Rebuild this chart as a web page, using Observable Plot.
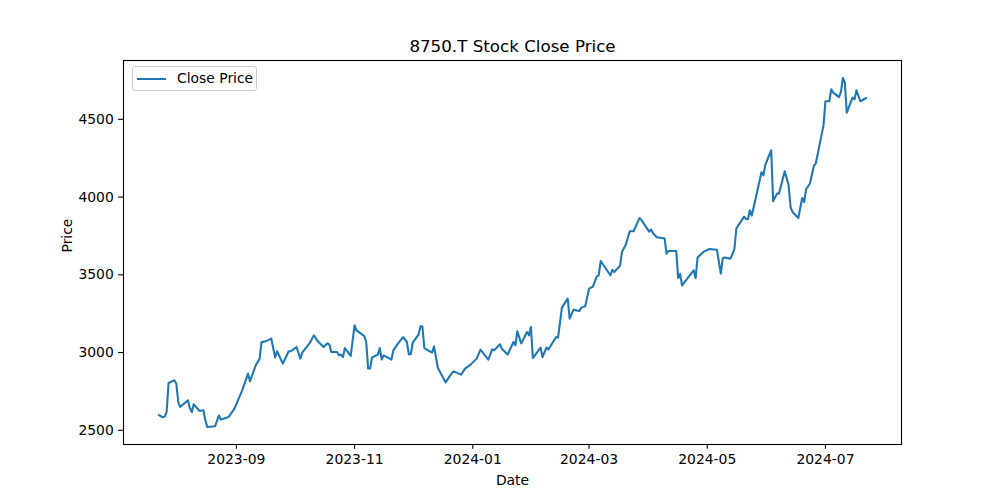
<!DOCTYPE html>
<html>
<head>
<meta charset="utf-8">
<script src="https://cdn.jsdelivr.net/npm/d3@7"></script>
<script src="https://cdn.jsdelivr.net/npm/@observablehq/plot@0.6"></script>
<style>
  html, body { margin: 0; padding: 0; background: #fff; }
  #wrap { position: relative; width: 1000px; height: 500px; font-family: "DejaVu Sans", sans-serif; }
  #legend { position: absolute; left: 132px; top: 66px; width: 125px; height: 25px;
    border: 1px solid #cccccc; border-radius: 3px; background: rgba(255,255,255,0.8); box-sizing: border-box; }
  #legend .sw { position: absolute; left: 4px; top: 11px; width: 29px; height: 2px; background: #1f77b4; }
  #legend .lb { position: absolute; left: 44px; top: 3px; font-size: 13.9px; line-height: 17px; color: #000; white-space: nowrap; }
</style>
</head>
<body>
<div id="wrap"></div>
<script>
const chartTitle = "8750.T Stock Close Price";
const xLabel = "Date";
const yLabel = "Price";
const seriesName = "Close Price";

const dates = [
"2023-07-23","2023-07-25","2023-07-26","2023-07-27","2023-07-28","2023-07-31","2023-08-01","2023-08-02","2023-08-03","2023-08-07",
"2023-08-08","2023-08-09","2023-08-10","2023-08-13","2023-08-15","2023-08-16","2023-08-17","2023-08-21","2023-08-23","2023-08-24",
"2023-08-28","2023-08-31","2023-09-04","2023-09-07","2023-09-08","2023-09-11","2023-09-13","2023-09-14","2023-09-16","2023-09-19",
"2023-09-21","2023-09-22","2023-09-25","2023-09-28","2023-09-29","2023-10-02","2023-10-04","2023-10-05","2023-10-09","2023-10-11",
"2023-10-13","2023-10-16","2023-10-18","2023-10-19","2023-10-20","2023-10-23","2023-10-24","2023-10-25","2023-10-26","2023-10-27",
"2023-10-30","2023-11-01","2023-11-02","2023-11-06","2023-11-07","2023-11-08","2023-11-09","2023-11-10","2023-11-13","2023-11-14",
"2023-11-15","2023-11-16","2023-11-20","2023-11-21","2023-11-23","2023-11-26","2023-11-28","2023-11-29","2023-11-30","2023-12-01",
"2023-12-04","2023-12-05","2023-12-06","2023-12-07","2023-12-11","2023-12-12","2023-12-14","2023-12-18","2023-12-20","2023-12-22",
"2023-12-26","2023-12-28","2023-12-31","2024-01-03","2024-01-05","2024-01-09","2024-01-11","2024-01-12","2024-01-15","2024-01-16",
"2024-01-19","2024-01-22","2024-01-23","2024-01-24","2024-01-26","2024-01-29","2024-01-30","2024-01-31","2024-02-01","2024-02-05",
"2024-02-06","2024-02-08","2024-02-09","2024-02-13","2024-02-14","2024-02-16","2024-02-19","2024-02-20","2024-02-22","2024-02-25",
"2024-02-26","2024-02-28","2024-03-01","2024-03-03","2024-03-05","2024-03-06","2024-03-07","2024-03-12","2024-03-13","2024-03-14",
"2024-03-17","2024-03-18","2024-03-20","2024-03-22","2024-03-24","2024-03-27","2024-03-28","2024-04-01","2024-04-02","2024-04-03",
"2024-04-05","2024-04-09","2024-04-10","2024-04-11","2024-04-15","2024-04-16","2024-04-17","2024-04-18","2024-04-24","2024-04-25",
"2024-04-26","2024-04-29","2024-04-30","2024-05-02","2024-05-06","2024-05-08","2024-05-09","2024-05-10","2024-05-13","2024-05-15",
"2024-05-16","2024-05-20","2024-05-21","2024-05-22","2024-05-23","2024-05-24","2024-05-26","2024-05-29","2024-05-30","2024-05-31",
"2024-06-03","2024-06-04","2024-06-06","2024-06-07","2024-06-10","2024-06-12","2024-06-13","2024-06-14","2024-06-17","2024-06-19",
"2024-06-20","2024-06-21","2024-06-23","2024-06-25","2024-06-26","2024-06-30","2024-07-01","2024-07-03","2024-07-04","2024-07-05",
"2024-07-08","2024-07-09","2024-07-10","2024-07-11","2024-07-12","2024-07-15","2024-07-16","2024-07-17","2024-07-19","2024-07-22"
];

const closes = [
2598,2584,2588,2618,2804,2822,2800,2682,2650,2693,
2643,2618,2667,2624,2629,2564,2521,2526,2596,2569,
2586,2640,2757,2865,2815,2918,2961,3068,3072,3090,
2968,3008,2929,3008,3008,3036,2961,3000,3064,3111,
3072,3036,3060,3051,3004,3004,2982,2987,2971,3029,
2978,3175,3143,3106,3068,2897,2897,2968,2987,3029,
2955,2982,2955,3014,3051,3100,3068,2989,2989,3064,
3115,3169,3169,3029,3000,3040,2901,2807,2847,2879,
2858,2897,2924,2961,3019,2955,3021,3014,3053,3025,
2987,3068,3047,3137,3058,3132,3111,3164,2965,3032,
2971,3032,3019,3100,3096,3289,3347,3218,3276,3267,
3289,3297,3411,3424,3490,3497,3589,3497,3532,3518,
3559,3647,3695,3780,3780,3865,3853,3778,3791,3767,
3741,3733,3636,3653,3653,3480,3505,3432,3529,3478,
3611,3647,3654,3666,3661,3508,3607,3611,3604,3664,
3797,3874,3859,3857,3915,3881,3992,4159,4140,4209,
4301,3973,4022,4022,4166,4076,3936,3904,3865,3994,
3968,4050,4087,4200,4215,4461,4616,4616,4693,4672,
4643,4676,4766,4736,4543,4640,4629,4687,4616,4637
];

const xTickDates = ["2023-09-01","2023-11-01","2024-01-01","2024-03-01","2024-05-01","2024-07-01"];
const yTickValues = [2500, 3000, 3500, 4000, 4500];

const data = dates.map((d, i) => ({date: new Date(d + "T00:00:00Z"), close: closes[i]}));

// matplotlib-like 5% margins
const tExt = d3.extent(data, d => +d.date);
const tPad = (tExt[1] - tExt[0]) * 0.05;
const vExt = d3.extent(data, d => d.close);
const vPad = (vExt[1] - vExt[0]) * 0.05;

const fmt = d3.utcFormat("%Y-%m");

const chart = Plot.plot({
  width: 1000,
  height: 500,
  marginLeft: 123,
  marginRight: 99,
  marginTop: 60,
  marginBottom: 56,
  style: {fontFamily: "DejaVu Sans, sans-serif", fontSize: "13.9px", color: "#000", background: "#fff"},
  x: {type: "utc", domain: [new Date(tExt[0] - tPad), new Date(tExt[1] + tPad)]},
  y: {domain: [vExt[0] - vPad, vExt[1] + vPad]},
  marks: [
    Plot.lineY(data, {x: "date", y: "close", stroke: "#1f77b4", strokeWidth: 2.08}),
    Plot.frame({stroke: "#000", strokeWidth: 1.1}),
    Plot.axisX({ticks: xTickDates.map(d => new Date(d + "T00:00:00Z")), tickFormat: fmt, tickSize: 4.86, tickPadding: 4.86, strokeWidth: 1.1, label: null, fontSize: 13.9}),
    Plot.axisY({ticks: yTickValues, tickFormat: d => String(d), tickSize: 4.86, tickPadding: 4.86, strokeWidth: 1.1, label: null, fontSize: 13.9}),
    Plot.text([chartTitle], {frameAnchor: "top", lineAnchor: "middle", dy: -14, fontSize: 16.7}),
    Plot.text([xLabel], {frameAnchor: "bottom", lineAnchor: "middle", dy: 36, fontSize: 13.9}),
    Plot.text([yLabel], {frameAnchor: "left", lineAnchor: "middle", dx: -56, rotate: -90, fontSize: 13.9})
  ]
});

const wrap = document.getElementById("wrap");
wrap.appendChild(chart);
const legend = document.createElement("div");
legend.id = "legend";
legend.innerHTML = '<span class="sw"></span><span class="lb"></span>';
legend.querySelector(".lb").textContent = seriesName;
wrap.appendChild(legend);
</script>
</body>
</html>
